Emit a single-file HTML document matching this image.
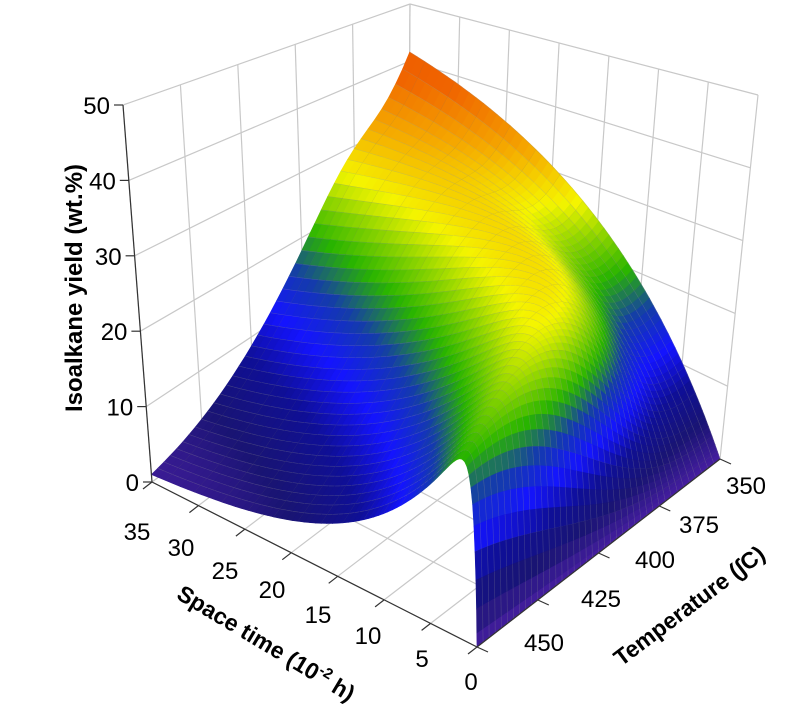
<!DOCTYPE html>
<html><head><meta charset="utf-8"><style>
html,body{margin:0;padding:0;background:#fff}
svg{display:block}
text{font-family:"Liberation Sans",Arial,sans-serif}
</style></head><body>
<svg id="s" width="803" height="714" viewBox="0 0 803 714" xmlns="http://www.w3.org/2000/svg">
<g id="grid"></g><g id="surf"></g><g id="ax"></g>
<text x="0" y="0" font-size="24" font-weight="bold" text-anchor="middle" transform="translate(82,288) rotate(-90)">Isoalkane yield (wt.%)</text>
<text x="0" y="0" font-size="23" font-weight="bold" text-anchor="middle" transform="translate(262,650) rotate(31)">Space time (10<tspan dy="-9" font-size="15">-2</tspan><tspan dy="9"> h)</tspan></text>
<text x="0" y="0" font-size="23" font-weight="bold" text-anchor="middle" transform="translate(694,612) rotate(-37)">Temperature (∫C)</text>
</svg>
<script>
var NS="http://www.w3.org/2000/svg";
var F=[477,647],L=[152,482],R=[720,459],B=[408,290];
var TD={F:[7,455],L:[-29,377],R:[38,364],B:[2,286]};
function bl(a,b,f,l,r,bb){return f*(1-a)*(1-b)+l*a*(1-b)+r*(1-a)*b+bb*a*b;}
function P(a,b,z){
 var x=bl(a,b,F[0],L[0],R[0],B[0]),y=bl(a,b,F[1],L[1],R[1],B[1]);
 var dx=bl(a,b,TD.F[0],TD.L[0],TD.R[0],TD.B[0]),h=bl(a,b,TD.F[1],TD.L[1],TD.R[1],TD.B[1]);
 return [x+dx*z/50,y-h*z/50];
}
function Y(s,u){
 var A=54-29*u,k=0.042+1.5*Math.pow(u,2.5),d=0.055*u+0.037*u*u*u;
 return A*(1-Math.exp(-k*s))*Math.exp(-d*s);
}
var stops=[[0,[70,30,160]],[4,[25,20,115]],[8,[15,15,150]],[12,[20,20,255]],[16,[20,60,170]],[20,[40,180,0]],[24,[150,215,0]],[27,[245,245,0]],[32,[245,170,0]],[38,[240,100,0]],[60,[230,60,0]]];
function col(z){
 for(var i=0;i<stops.length-1;i++){var a=stops[i],b=stops[i+1];
  if(z<=b[0]){var t=(z-a[0])/(b[0]-a[0]);t=Math.max(0,Math.min(1,t));
   return 'rgb('+[0,1,2].map(function(j){return Math.round(a[1][j]+(b[1][j]-a[1][j])*t)}).join(',')+')';}}
 return 'rgb(230,60,0)';
}
function line(g,p,q,st,w){var e=document.createElementNS(NS,'line');e.setAttribute('x1',p[0].toFixed(1));e.setAttribute('y1',p[1].toFixed(1));e.setAttribute('x2',q[0].toFixed(1));e.setAttribute('y2',q[1].toFixed(1));e.setAttribute('stroke',st);e.setAttribute('stroke-width',w);g.appendChild(e);}
function txt(g,x,y,s,anc){var e=document.createElementNS(NS,'text');e.setAttribute('x',x);e.setAttribute('y',y);e.setAttribute('font-size','24');e.setAttribute('text-anchor',anc||'middle');e.textContent=s;g.appendChild(e);}
var G=document.getElementById('grid'),S=document.getElementById('surf'),X=document.getElementById('ax');
var gc='#c8c8c8';
for(var z=0;z<=50;z+=10)line(G,P(1,0,z),P(1,1,z),gc,1.2);
for(var i=0;i<=5;i++){var b=i/5;line(G,P(1,b,0),P(1,b,50),gc,1.2);}
for(var z=0;z<=50;z+=10)line(G,P(0,1,z),P(1,1,z),gc,1.2);
for(var i=0;i<=7;i++){var a=i/7;line(G,P(a,1,0),P(a,1,50),gc,1.2);}
for(var i=0;i<=7;i++){var a=i/7;line(G,P(a,0,0),P(a,1,0),gc,1.2);}
for(var i=0;i<=5;i++){var b=i/5;line(G,P(0,b,0),P(1,b,0),gc,1.2);}
var NS_=70,NU=40,sv=[],uv=[];
for(var i=0;i<=NS_;i++)sv.push(35*Math.pow(i/NS_,1.6));
for(var j=0;j<=NU;j++)uv.push(j/NU);
var quads=[];
for(var i=0;i<NS_;i++)for(var j=0;j<NU;j++){
 var s0=sv[i],s1=sv[i+1],u0=uv[j],u1=uv[j+1];
 var c=[[s0,u0],[s1,u0],[s1,u1],[s0,u1]];
 var pts=c.map(function(q){var z=Y(q[0],q[1]);return P(q[0]/35,1-q[1],z).concat([z]);});
 var za=(pts[0][2]+pts[1][2]+pts[2][2]+pts[3][2])/4;
 quads.push({d:(s0+s1)/70+(2-u0-u1)/2,p:pts,z:za,i:i,j:j});
}
quads.sort(function(a,b){return b.d-a.d;});
var html='';
quads.forEach(function(q){
 var c=col(q.z),p=q.p;
 var d='M'+p.map(function(v){return v[0].toFixed(1)+','+v[1].toFixed(1)}).join('L')+'Z';
 html+='<path d="'+d+'" fill="'+c+'" stroke="'+c+'" stroke-width="0.6"/>';
 html+='<path d="M'+p[0][0].toFixed(1)+','+p[0][1].toFixed(1)+'L'+p[1][0].toFixed(1)+','+p[1][1].toFixed(1)+'" stroke="rgba(150,150,150,0.35)" stroke-width="0.6" fill="none"/>';
 if(q.i%4==0)html+='<path d="M'+p[0][0].toFixed(1)+','+p[0][1].toFixed(1)+'L'+p[3][0].toFixed(1)+','+p[3][1].toFixed(1)+'" stroke="rgba(110,110,110,0.6)" stroke-width="0.8" fill="none"/>';
});
S.innerHTML=html;
var ac='#333';
line(X,P(1,0,0),P(1,0,50),ac,1.2);
for(var z=0;z<=50;z+=10){var p=P(1,0,z);line(X,p,[p[0]-9,p[1]],ac,1.2);}
for(var k=0;k<6;k++){var p=P(1,0,k*10);txt(X,p[0]-13,p[1]+9,String(k*10),'end');}
line(X,P(0,0,0),P(1,0,0),ac,1.2);
for(var i=0;i<=7;i++){var p=P(i/7,0,0);line(X,p,[p[0]-9,p[1]+7],ac,1.2);}
var sl=[[471,682],[422,659],[368,636],[318,615],[272,590],[225,571],[181,548],[137,532]];
for(var i=0;i<8;i++)txt(X,sl[i][0],sl[i][1]+8,String(i*5));
line(X,P(0,0,0),P(0,1,0),ac,1.2);
for(var i=0;i<=4;i++){var p=P(0,i/4,0);line(X,p,[p[0]+11,p[1]+5],ac,1.2);}
var tl=[[544,643],[601,599],[655,560],[699,525],[746,486]];
var tn=['450','425','400','375','350'];
for(var i=0;i<5;i++)txt(X,tl[i][0],tl[i][1]+8,tn[i]);
</script>
</body></html>
